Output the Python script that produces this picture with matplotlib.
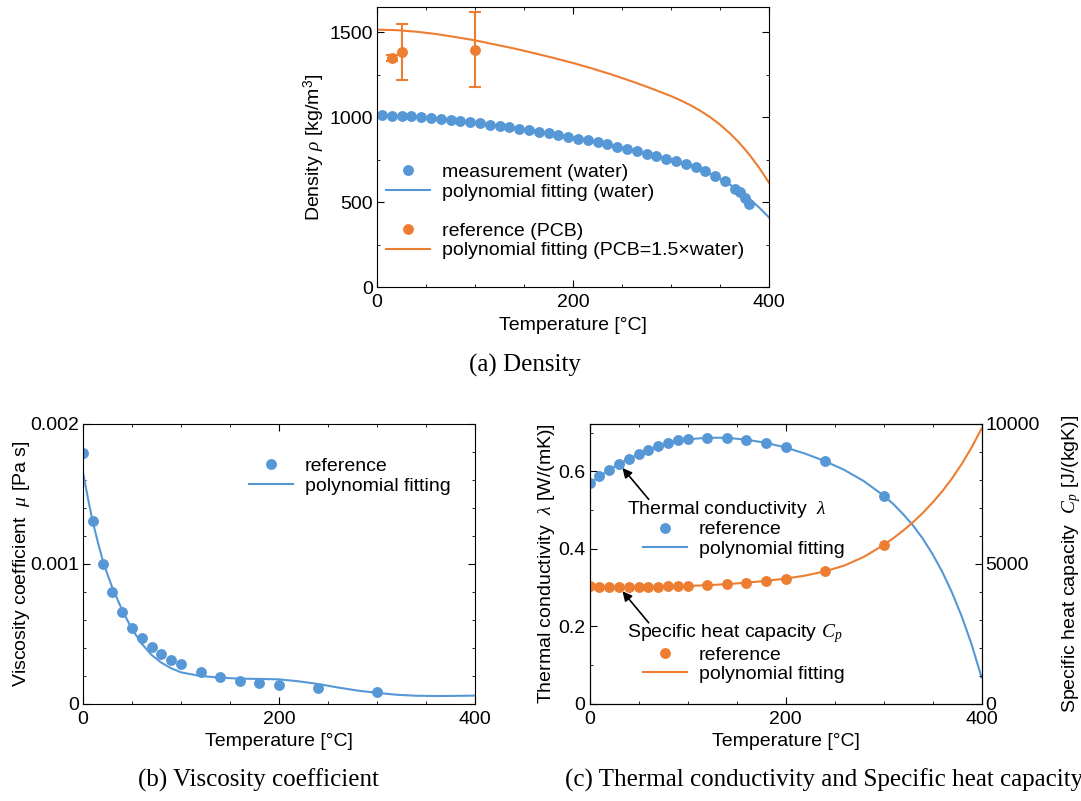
import numpy as np
import matplotlib.pyplot as plt
from matplotlib.ticker import MultipleLocator
from matplotlib.lines import Line2D

plt.rcParams['font.family'] = ['Liberation Sans', 'DejaVu Sans']
plt.rcParams['font.size'] = 14
plt.rcParams['mathtext.fontset'] = 'custom'
plt.rcParams['mathtext.rm'] = 'Liberation Sans'
plt.rcParams['mathtext.it'] = 'Liberation Serif:italic'
plt.rcParams['mathtext.bf'] = 'Liberation Sans:bold'

blue = '#5697D6'
orange = '#ED7D31'

# (a) density
water_t = list(range(5, 366, 10)) + [370, 375, 380]
water_rho = [1011, 1010, 1008, 1005, 1001, 997, 992, 986, 979, 972,
             965, 957, 949, 941, 932, 923, 914, 905, 895, 885,
             875, 864, 852, 840, 827, 814, 800, 786, 771, 756,
             740, 723, 705, 684, 656, 622, 580, 557, 525, 488]
wfit_t = [0, 20, 40, 60, 80, 100, 120, 140, 160, 180, 200, 220, 240, 260,
          280, 300, 310, 320, 330, 340, 350, 360, 370, 380, 390, 400]
wfit_rho = [1011, 1009, 1003, 994, 982, 969, 953, 937, 919, 900, 880, 858, 834, 808,
            780, 750, 733, 714, 692, 667, 638, 604, 565, 520, 468, 410]
pcb_t = [15, 25, 100]
pcb_rho = [1350, 1387, 1398]
pcb_err = [20, 165, 220]
pcb_fit = 1.5 * np.array(wfit_rho)  # PCB = 1.5 x water

# (b) viscosity
visc_t = [0, 10, 20, 30, 40, 50, 60, 70, 80, 90, 100, 120, 140, 160, 180, 200, 240, 300]
visc = np.array([1.79, 1.31, 1.00, 0.80, 0.66, 0.545, 0.47, 0.405, 0.355, 0.317, 0.283,
                 0.231, 0.193, 0.167, 0.148, 0.133, 0.113, 0.088]) * 1e-3
vfit_t = [0, 5, 10, 15, 20, 25, 30, 40, 50, 60, 70, 80, 90, 100, 120, 140, 160, 180,
          200, 220, 240, 260, 280, 300, 320, 340, 360, 380, 400]
vfit = np.array([1.655, 1.47, 1.30, 1.16, 1.03, 0.925, 0.83, 0.67, 0.535, 0.43, 0.35,
                 0.295, 0.255, 0.226, 0.20, 0.188, 0.181, 0.179, 0.176, 0.162, 0.143,
                 0.118, 0.096, 0.080, 0.066, 0.059, 0.057, 0.058, 0.060]) * 1e-3

# (c) thermal conductivity and specific heat
prop_t = [0, 10, 20, 30, 40, 50, 60, 70, 80, 90, 100, 120, 140, 160, 180, 200, 240, 300]
lam = [0.570, 0.588, 0.604, 0.620, 0.633, 0.644, 0.655, 0.666, 0.674, 0.680, 0.684,
       0.687, 0.687, 0.682, 0.674, 0.662, 0.627, 0.538]
cp = [4217, 4193, 4182, 4179, 4179, 4181, 4185, 4190, 4197, 4205, 4216,
      4240, 4280, 4330, 4400, 4478, 4735, 5675]
pfit_t = [0, 20, 40, 60, 80, 100, 120, 140, 160, 180, 200, 220, 240, 260, 280, 300,
          310, 320, 330, 340, 350, 360, 370, 380, 390, 400]
lam_fit = [0.569, 0.604, 0.633, 0.655, 0.673, 0.683, 0.687, 0.687, 0.682, 0.674, 0.662,
           0.646, 0.627, 0.604, 0.575, 0.538, 0.516, 0.490, 0.461, 0.427, 0.387, 0.341,
           0.287, 0.225, 0.153, 0.069]
cp_fit = [4205, 4185, 4180, 4186, 4198, 4216, 4242, 4281, 4332, 4398, 4478, 4585, 4735,
          4945, 5255, 5675, 5920, 6190, 6490, 6820, 7190, 7600, 8060, 8580, 9170, 9830]


def style(ax, xminor, yminor, right=True):
    ax.tick_params(which='both', direction='in', top=True, right=right, pad=3)
    ax.tick_params(axis='x', which='both', pad=5)
    ax.tick_params(which='major', length=5)
    ax.tick_params(which='minor', length=2.5)
    ax.xaxis.set_minor_locator(MultipleLocator(xminor))
    ax.yaxis.set_minor_locator(MultipleLocator(yminor))
    ax.set_xlim(0, 400)
    ax.set_xticks([0, 200, 400], ['0', '200', '400'])
    ax.set_xlabel('Temperature [°C]')


W, H = 1081, 801
fig = plt.figure(figsize=(W / 100, H / 100), dpi=100)
ax_a = fig.add_axes([377 / W, 1 - 287 / H, 392 / W, 280 / H])
ax_b = fig.add_axes([83 / W, 1 - 704 / H, 392 / W, 280 / H])
ax_c = fig.add_axes([589.5 / W, 1 - 704 / H, 392 / W, 280 / H])

ms = 6.8
lw = 1.5

# ---- (a)
ax_a.plot(wfit_t, pcb_fit, color=orange, lw=lw)
ax_a.errorbar(pcb_t, pcb_rho, yerr=pcb_err, fmt='o', color=orange, ms=ms,
              elinewidth=1.5, capsize=4, capthick=1.5)
ax_a.plot(wfit_t, wfit_rho, color=blue, lw=lw)
ax_a.plot(water_t, water_rho, 'o', color=blue, ms=ms)
style(ax_a, 50, 250)
ax_a.set_ylim(0, 1650)
ax_a.set_yticks([0, 500, 1000, 1500], ['0', '500', '1000', '1500'])
ax_a.set_ylabel('Density $\\rho$ [kg/m$^3$]')
ax_a.yaxis.set_label_coords(-0.128, 0.5)
handles = [Line2D([], [], ls='none', marker='o', color=blue, ms=ms),
           Line2D([], [], color=blue, lw=lw),
           Line2D([], [], ls='none'),
           Line2D([], [], ls='none', marker='o', color=orange, ms=ms),
           Line2D([], [], color=orange, lw=lw)]
labels = ['measurement (water)', 'polynomial fitting (water)', ' ',
          'reference (PCB)', 'polynomial fitting (PCB=1.5×water)']
ax_a.legend(handles, labels, loc='upper left', bbox_to_anchor=(0.023, 0.441),
            frameon=False, borderpad=0, borderaxespad=0, handlelength=2.27,
            handletextpad=0.6, labelspacing=0.1)

# ---- (b)
ax_b.plot(vfit_t, vfit, color=blue, lw=lw, label='polynomial fitting')
ax_b.plot(visc_t, visc, 'o', color=blue, ms=ms, label='reference')
style(ax_b, 50, 0.0002)
ax_b.set_ylim(0, 0.002)
ax_b.set_yticks([0, 0.001, 0.002], ['0', '0.001', '0.002'])
ax_b.set_ylabel('Viscosity coefficient  $\\mu$ [Pa s]')
ax_b.yaxis.set_label_coords(-0.13, 0.5)
hb, lb = ax_b.get_legend_handles_labels()
ax_b.legend(hb[::-1], lb[::-1], loc='upper left', bbox_to_anchor=(0.4227, 0.88),
            frameon=False, borderpad=0, borderaxespad=0, handlelength=2.27,
            handletextpad=0.6, labelspacing=0.1)

# ---- (c)
ax_c2 = ax_c.twinx()
ax_c.plot(pfit_t, lam_fit, color=blue, lw=lw, label='polynomial fitting')
ax_c.plot(prop_t, lam, 'o', color=blue, ms=ms, label='reference')
ax_c2.plot(pfit_t, cp_fit, color=orange, lw=lw, label='polynomial fitting')
ax_c2.plot(prop_t, cp, 'o', color=orange, ms=ms, label='reference')
style(ax_c, 50, 0.1, right=False)
ax_c.set_ylim(0, 0.7225)
ax_c.set_yticks([0, 0.2, 0.4, 0.6], ['0', '0.2', '0.4', '0.6'])
ax_c.set_ylabel('Thermal conductivity  $\\lambda$ [W/(mK)]')
ax_c.yaxis.set_label_coords(-0.083, 0.5)
ax_c2.tick_params(which='both', direction='in', right=True, top=False, pad=3)
ax_c2.tick_params(which='major', length=5)
ax_c2.tick_params(which='minor', length=2.5)
ax_c2.yaxis.set_minor_locator(MultipleLocator(1000))
ax_c2.set_ylim(0, 10000)
ax_c2.set_yticks([0, 5000, 10000], ['0', '5000', '10000'])
ax_c2.set_ylabel('Specific heat capacity  $C_p$ [J/(kgK)]')
ax_c2.yaxis.set_label_coords(1.20, 0.5)

ax_c.text(0.0957, 0.696, 'Thermal conductivity  $\\lambda$', transform=ax_c.transAxes,
          va='center', ha='left')
ax_c.text(0.0957, 0.2525, 'Specific heat capacity $C_p$', transform=ax_c.transAxes,
          va='center', ha='left')
arrow = dict(arrowstyle='-|>', color='black', lw=1.2, shrinkA=0, shrinkB=4,
             mutation_scale=14)
ax_c.annotate('', xy=(prop_t[3], lam[3]), xytext=(0.151, 0.731),
              textcoords='axes fraction', arrowprops=arrow)
ax_c2.annotate('', xy=(prop_t[3], cp[3]), xytext=(0.151, 0.29),
               textcoords='axes fraction', arrowprops=arrow)

hc, lc = ax_c.get_legend_handles_labels()
ax_c2.legend(hc[::-1], lc[::-1], loc='upper left', bbox_to_anchor=(0.136, 0.654),
             frameon=False, borderpad=0, borderaxespad=0, handlelength=2.27,
             handletextpad=0.6, labelspacing=0.1)
leg = ax_c2.get_legend()
hc2, lc2 = ax_c2.get_legend_handles_labels()
ax_c2.add_artist(leg)
ax_c2.legend(hc2[::-1], lc2[::-1], loc='upper left', bbox_to_anchor=(0.136, 0.207),
             frameon=False, borderpad=0, borderaxespad=0, handlelength=2.27,
             handletextpad=0.6, labelspacing=0.1)

serif = ['Liberation Serif', 'DejaVu Serif']
fig.text(525 / W, 1 - 365 / H, '(a) Density', ha='center', va='center',
         family=serif, fontsize=18)
fig.text(258 / W, 1 - 780 / H, '(b) Viscosity coefficient', ha='center', va='center',
         family=serif, fontsize=18)
fig.text(824 / W, 1 - 780 / H, '(c) Thermal conductivity and Specific heat capacity',
         ha='center', va='center', family=serif, fontsize=18)

fig.savefig('out.png', dpi=100)
